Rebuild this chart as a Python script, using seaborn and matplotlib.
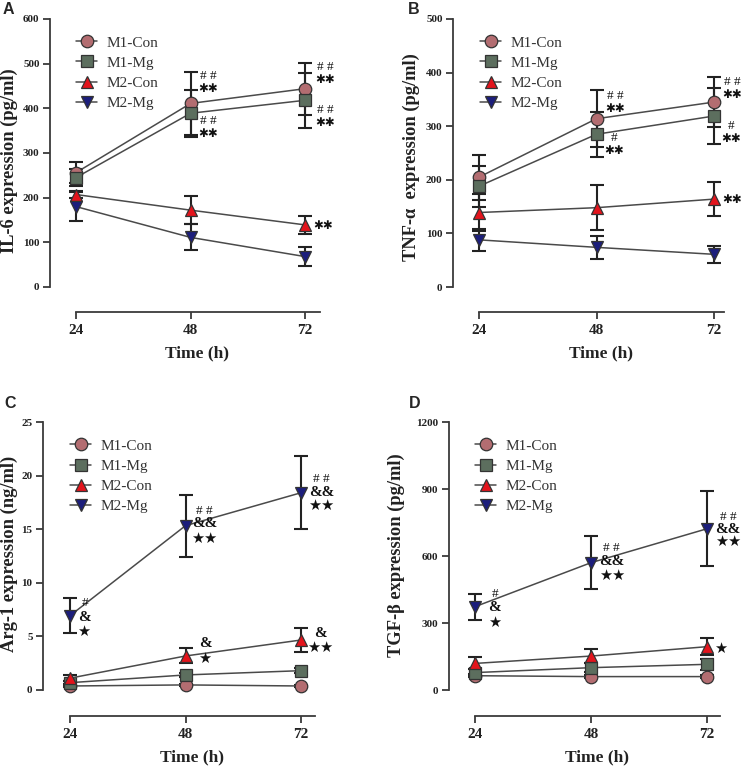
import numpy as np
import pandas as pd
import matplotlib
matplotlib.use("Agg")
import matplotlib.pyplot as plt
import seaborn as sns

sns.set_theme(style="ticks")
plt.rcParams['font.family'] = ['Liberation Serif', 'DejaVu Sans']

times = [24, 48, 72]
groups = ["M1-Con", "M1-Mg", "M2-Con", "M2-Mg"]

# Panel A: IL-6 (pg/ml)
il6_mean = {"M1-Con": [256, 411, 444], "M1-Mg": [245, 389, 418],
            "M2-Con": [207, 172, 139], "M2-Mg": [180, 111, 68]}
il6_err = {"M1-Con": [24, 71, 58], "M1-Mg": [20, 53, 62],
           "M2-Con": [8, 31, 20], "M2-Mg": [33, 29, 21]}
# Panel B: TNF-alpha (pg/ml)
tnf_mean = {"M1-Con": [205, 314, 345], "M1-Mg": [188, 285, 319],
            "M2-Con": [139, 148, 164], "M2-Mg": [88, 74, 61]}
tnf_err = {"M1-Con": [42, 53, 46], "M1-Mg": [38, 42, 53],
           "M2-Con": [35, 42, 32], "M2-Mg": [20, 22, 16]}
# Panel C: Arg-1 (ng/ml)
arg_mean = {"M1-Con": [0.37, 0.47, 0.37], "M1-Mg": [0.68, 1.4, 1.8],
            "M2-Con": [1.1, 3.17, 4.66], "M2-Mg": [6.93, 15.33, 18.4]}
arg_err = {"M1-Con": [0.1, 0.1, 0.1], "M1-Mg": [0.15, 0.2, 0.25],
           "M2-Con": [0.3, 0.7, 1.15], "M2-Mg": [1.65, 2.9, 3.4]}
# Panel D: TGF-beta (pg/ml)
tgf_mean = {"M1-Con": [64, 60, 60], "M1-Mg": [78, 100, 115],
            "M2-Con": [119, 152, 194], "M2-Mg": [373, 570, 722]}
tgf_err = {"M1-Con": [8, 8, 8], "M1-Mg": [15, 20, 25],
           "M2-Con": [27, 30, 38], "M2-Mg": [58, 118, 167]}

ylabels = ["IL-6 expression (pg/ml)", "TNF-\u03b1  expression (pg/ml)",
           "Arg-1 expression (ng/ml)", "TGF-\u03b2 expression (pg/ml)"]
yticks = [np.arange(0, 601, 100), np.arange(0, 501, 100),
          np.arange(0, 26, 5), np.arange(0, 1201, 300)]

# stacked "#"-over-"**" marks: (x, boundary y between the two, top text)
pairs_A = [(51.7, 458, "# #"), (51.7, 359, "# #"), (76.2, 479, "# #"), (76.2, 383, "# #")]
pairs_B = [(51.8, 345, "# #"), (51.6, 266, "#"), (75.7, 371, "# #"), (75.5, 289, "#")]
pairs_C, pairs_D = [], []
# single significance marks: (x, y, text)
ann_A = [(75.8, 137, "✱✱")]
ann_B = [(75.8, 164, "✱✱")]
ann_C = [(27.1, 8.15, "#"), (27.0, 6.8, "&"), (26.8, 5.45, "★"),
         (51.9, 16.7, "# #"), (51.9, 15.5, "&&"), (51.9, 14.15, "★★"),
         (76.2, 19.65, "# #"), (76.2, 18.44, "&&"), (76.2, 17.26, "★★"),
         (52.2, 4.35, "&"), (52.0, 2.9, "★"),
         (76.0, 5.3, "&"), (75.9, 3.95, "★★")]
ann_D = [(28.1, 428, "#"), (28.1, 368, "&"), (28.0, 304, "★"),
         (52.3, 634, "# #"), (52.3, 575, "&&"), (52.3, 511, "★★"),
         (76.4, 773, "# #"), (76.4, 720, "&&"), (76.4, 664, "★★"),
         (74.8, 187, "★")]

panels = [
    ("A", il6_mean, il6_err, ann_A, pairs_A, [50, 320, 19, 312], (18.55, 75.1), (-56, 600)),
    ("B", tnf_mean, tnf_err, ann_B, pairs_B, [453, 724, 19, 312], (18.69, 74.04), (-46.6, 500)),
    ("C", arg_mean, arg_err, ann_C, pairs_C, [43, 315, 422, 716], (18.39, 74.9), (-2.43, 25)),
    ("D", tgf_mean, tgf_err, ann_D, pairs_D, [449, 720, 422, 716], (18.62, 74.7), (-116.4, 1200)),
]
letter_pos = [(8, 9), (414, 9), (10, 403), (415, 403)]
ylabel_x = [-0.117, -0.122, -0.092, -0.162]
ylabel_y = [0.515, 0.53, 0.55, 0.547]
legend_x = [0.096, 0.10, 0.099, 0.096]

markers = {"M1-Con": "o", "M1-Mg": "s", "M2-Con": "^", "M2-Mg": "v"}
faces = {"M1-Con": "#B36D71", "M1-Mg": "#5C6E5E", "M2-Con": "#E3141C", "M2-Mg": "#1C1E7C"}
line_col = "#4a4a4a"
spine_col = "#3a3a3a"
ink = "#111111"

W, H = 745, 769
fig = plt.figure(figsize=(W / 100, H / 100), dpi=100)


def mark(ax, x, y, s, va="center"):
    if s.startswith("#"):
        ax.text(x, y, s, fontsize=9.5, ha="center", va=va, color=ink,
                family=["Liberation Serif"])
    elif s.startswith("&"):
        ax.text(x, y, s, fontsize=11, ha="center", va=va, color=ink,
                fontweight="bold", family=["Liberation Serif"])
    elif s.startswith("✱"):
        ax.text(x, y, s, fontsize=8.5, ha="center", va=va, color=ink,
                family=["DejaVu Sans"])
    else:
        ax.text(x, y, s, fontsize=10.5, ha="center", va=va, color=ink,
                family=["DejaVu Sans"])


for i, (letter, means, errs, anns, pairs, box, xl, yl) in enumerate(panels):
    l, r, t, b = box
    ax = fig.add_axes([l / W, 1 - b / H, (r - l) / W, (b - t) / H])
    df = pd.DataFrame({"time": np.tile(times, len(groups)),
                       "group": np.repeat(groups, len(times)),
                       "value": np.concatenate([means[g] for g in groups]),
                       "err": np.concatenate([errs[g] for g in groups])})
    for g in groups:
        sub = df[df["group"] == g]
        ax.errorbar(sub["time"], sub["value"], yerr=sub["err"], fmt="none",
                    ecolor="#222222", elinewidth=1.5, capsize=4.8, capthick=1.5, zorder=2)
    for g in groups:
        sub = df[df["group"] == g]
        sns.lineplot(data=sub, x="time", y="value", ax=ax, color=line_col, linewidth=1.1,
                     marker=markers[g], markersize=9, markerfacecolor=faces[g],
                     markeredgecolor="#333333", markeredgewidth=0.9, label=g,
                     errorbar=None, zorder=3)
    ax.set_xlim(*xl)
    ax.set_ylim(*yl)
    ax.set_xticks(times)
    ax.set_yticks(yticks[i])
    sns.despine(ax=ax)
    ax.spines["left"].set_bounds(0, yl[1])
    ax.spines["bottom"].set_bounds(24, xl[1])
    for s in ("left", "bottom"):
        ax.spines[s].set_color(spine_col)
        ax.spines[s].set_linewidth(1.3)
    ax.tick_params(axis="both", colors=spine_col, width=1.3, length=5)
    ax.tick_params(axis="y", labelsize=8, pad=2.5, labelcolor="#222222")
    ax.tick_params(axis="x", labelsize=11, pad=4, labelcolor="#222222")
    for lab in ax.get_xticklabels() + ax.get_yticklabels():
        lab.set_fontweight("bold")
    ax.set_xlabel("Time (h)", fontsize=12.5, fontweight="bold", color="#222222")
    ax.set_ylabel(ylabels[i], fontsize=13.3, fontweight="bold", color="#222222")
    ax.yaxis.set_label_coords(ylabel_x[i], ylabel_y[i])
    ax.xaxis.set_label_coords(0.546, -0.115)
    leg = ax.legend(loc="upper left", bbox_to_anchor=(legend_x[i], 0.942), frameon=False,
                    fontsize=11, handlelength=1.4, handletextpad=0.6, labelspacing=0.42,
                    borderpad=0, borderaxespad=0)
    for txt in leg.get_texts():
        txt.set_color("#333333")
    for (x, yb, s) in pairs:
        mark(ax, x, yb, s, va="bottom")
        mark(ax, x, yb, "✱✱", va="top")
    for (x, y, s) in anns:
        mark(ax, x, y, s)
    fig.text(letter_pos[i][0] / W, 1 - letter_pos[i][1] / H, letter, fontsize=11.5,
             fontweight="bold", ha="center", va="center", family=["Liberation Sans"])

fig.savefig("out.png", dpi=100)
